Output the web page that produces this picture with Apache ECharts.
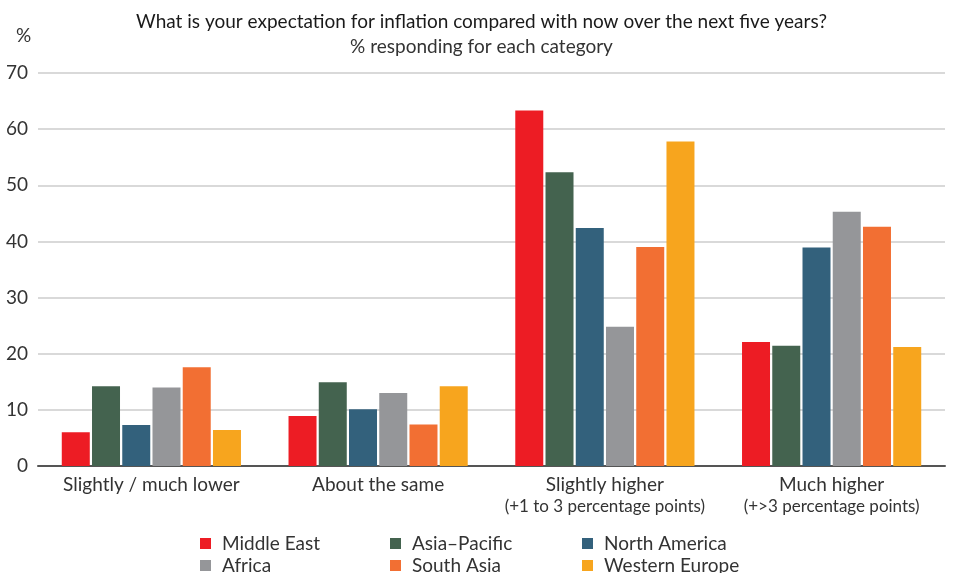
<!DOCTYPE html>
<html>
<head>
<meta charset="utf-8">
<script src="https://cdn.jsdelivr.net/npm/echarts@6/dist/echarts.min.js"></script>
<style>html,body{margin:0;padding:0;background:#fff}#c{width:963px;height:573px}</style>
</head>
<body>
<div id="c"></div>
<script>
const categories = ['Slightly / much lower', 'About the same', 'Slightly higher', 'Much higher'];
const categorySub = ['', '', '(+1 to 3 percentage points)', '(+>3 percentage points)'];
const seriesNames = ['Middle East', 'Asia\u2013Pacific', 'North America', 'Africa', 'South Asia', 'Western Europe'];
const middleEast = [6.0, 8.9, 63.3, 22.1];
const asiaPacific = [14.2, 14.9, 52.3, 21.4];
const northAmerica = [7.3, 10.1, 42.4, 38.9];
const africa = [14.0, 13.0, 24.8, 45.3];
const southAsia = [17.6, 7.4, 39.0, 42.6];
const westernEurope = [6.4, 14.2, 57.8, 21.2];
const yTicks = [0, 10, 20, 30, 40, 50, 60, 70];
const colors = ['#ed1c24', '#44634f', '#33617c', '#959699', '#f26f33', '#f7a51e'];
const allValues = [middleEast, asiaPacific, northAmerica, africa, southAsia, westernEurope];

const FONT = 'Lato';
const legendCols = [195, 385, 577];
const legendRows = [529, 551];
const legends = seriesNames.map(function (n, i) {
  return {
    data: [n],
    left: legendCols[i % 3], top: legendRows[Math.floor(i / 3)],
    itemWidth: 11, itemHeight: 11, icon: 'rect',
    textStyle: { fontFamily: FONT, fontSize: 19, color: '#333', padding: [0, 0, 0, 6] }
  };
});
const chart = echarts.init(document.getElementById('c'));
chart.setOption({
  animation: false,
  color: colors,
  title: [
    { text: 'What is your expectation for inflation compared with now over the next five years?',
      left: 'center', top: 7, textStyle: { fontFamily: FONT, fontSize: 19, fontWeight: 'normal', color: '#1a1a1a' } },
    { text: '% responding for each category',
      left: 'center', top: 32, textStyle: { fontFamily: FONT, fontSize: 19, fontWeight: 'normal', color: '#333' } },
    { text: '%', left: 11, top: 21, textStyle: { fontFamily: FONT, fontSize: 19, fontWeight: 'normal', color: '#333' } }
  ],
  legend: legends,
  grid: { left: 38, right: 18, top: 73, bottom: 107 },
  xAxis: {
    type: 'category',
    data: categories,
    axisTick: { show: false },
    axisLine: { lineStyle: { color: '#555', width: 2 } },
    axisLabel: {
      interval: 0,
      margin: 8,
      fontFamily: FONT, fontSize: 19, color: '#333',
      formatter: function (v, i) {
        return categorySub[i] ? v + '\n{s|' + categorySub[i] + '}' : v;
      },
      lineHeight: 22,
      rich: { s: { fontFamily: FONT, fontSize: 17, color: '#333', lineHeight: 22 } }
    }
  },
  yAxis: {
    type: 'value', min: 0, max: 70, interval: 10,
    axisLine: { show: false }, axisTick: { show: false },
    splitLine: { lineStyle: { color: '#d9d9d9', width: 2 } },
    axisLabel: { margin: 10, fontFamily: FONT, fontSize: 19, color: '#333',
      formatter: function (v) { return yTicks.indexOf(v) >= 0 ? String(v) : ''; } }
  },
  series: seriesNames.map(function (n, i) {
    return { name: n, type: 'bar', data: allValues[i], barWidth: 28, barGap: '8%' };
  })
});
</script>
</body>
</html>
